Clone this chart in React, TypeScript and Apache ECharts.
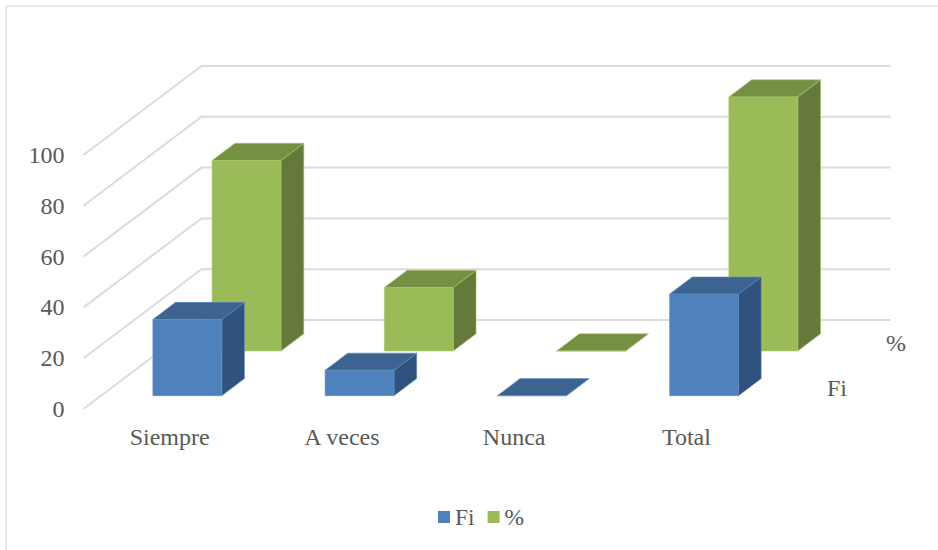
import React, { useEffect, useRef } from "react";
import * as echarts from "echarts";

const categories = ["Siempre", "A veces", "Nunca", "Total"];
const fiValues = [30, 10, 0, 40];
const pctValues = [75, 25, 0, 100];
const yTicks = [0, 20, 40, 60, 80, 100];

const DEPTH_X = 118;
const DEPTH_Y = 89;
const BAR_WIDTH_RATIO = 0.4;
const FI_DEPTH: [number, number] = [0.15, 0.342];
const PCT_DEPTH: [number, number] = [0.652, 0.845];
const FONT = '"Liberation Serif", "Times New Roman", serif';
const TEXT_COLOR = "#595959";

function barRenderer(depth: [number, number], front: string, top: string, side: string, edge: string) {
  return (_params: any, api: any) => {
    const idx = api.value(0);
    const value = api.value(1);
    const center = api.coord([idx, 0]);
    const high = api.coord([idx, value]);
    const w = api.size([1, 0])[0] * BAR_WIDTH_RATIO;
    const ox = depth[0] * DEPTH_X;
    const oy = depth[0] * DEPTH_Y;
    const dx = (depth[1] - depth[0]) * DEPTH_X;
    const dy = (depth[1] - depth[0]) * DEPTH_Y;
    const x0 = center[0] - w / 2 + ox;
    const x1 = x0 + w;
    const yb = center[1] - oy;
    const yt = high[1] - oy;
    const stroke = { stroke: edge, lineWidth: 0.6 };
    return {
      type: "group",
      children: [
        {
          type: "polygon",
          shape: { points: [[x1, yb], [x1 + dx, yb - dy], [x1 + dx, yt - dy], [x1, yt]] },
          style: { fill: side, ...stroke },
        },
        {
          type: "polygon",
          shape: { points: [[x0, yt], [x1, yt], [x1 + dx, yt - dy], [x0 + dx, yt - dy]] },
          style: { fill: top, ...stroke },
        },
        {
          type: "rect",
          shape: { x: x0, y: yt, width: w, height: yb - yt },
          style: { fill: front, ...stroke },
        },
      ],
    };
  };
}

function wallRenderer(_params: any, api: any) {
  const cs = _params.coordSys;
  const y = api.coord([0, api.value(1)])[1];
  return {
    type: "polyline",
    shape: {
      points: [
        [cs.x, y],
        [cs.x + DEPTH_X, y - DEPTH_Y],
        [cs.x + cs.width + DEPTH_X, y - DEPTH_Y],
      ],
    },
    style: { stroke: "#DCDCDC", lineWidth: 2, fill: "none" },
  };
}

export default function App() {
  const ref = useRef<HTMLDivElement>(null);
  useEffect(() => {
    const chart = echarts.init(ref.current!, undefined, { renderer: "svg" });
    chart.setOption({
      animation: false,
      backgroundColor: "#ffffff",
      textStyle: { fontFamily: FONT },
      grid: { left: 83.5, top: 155, width: 689, height: 254 },
      legend: {
        data: ["Fi", "%"],
        left: 433,
        top: 500,
        icon: "rect",
        itemWidth: 12,
        itemHeight: 12,
        itemGap: 13,
        textStyle: { fontFamily: FONT, fontSize: 23.5, color: TEXT_COLOR },
      },
      xAxis: {
        type: "category",
        data: categories,
        axisLine: { show: false },
        axisTick: { show: false },
        splitLine: { show: false },
        axisLabel: { fontFamily: FONT, fontSize: 24, color: TEXT_COLOR, margin: 16 },
      },
      yAxis: {
        type: "value",
        min: 0,
        max: 100,
        interval: 20,
        axisLine: { show: false },
        axisTick: { show: false },
        splitLine: { show: false },
        axisLabel: { fontFamily: FONT, fontSize: 24, color: TEXT_COLOR, margin: 19 },
      },
      graphic: [
        { type: "line", shape: { x1: 6, y1: 6, x2: 938, y2: 6 }, style: { stroke: "#E3E3E3", lineWidth: 1.5 } },
        { type: "line", shape: { x1: 6, y1: 6, x2: 6, y2: 550 }, style: { stroke: "#E3E3E3", lineWidth: 1.5 } },
        { type: "text", x: 827, y: 376, style: { text: "Fi", font: `24px ${FONT}`, fill: TEXT_COLOR } },
        { type: "text", x: 886, y: 331, style: { text: "%", font: `24px ${FONT}`, fill: TEXT_COLOR } },
      ],
      series: [
        {
          type: "custom",
          name: "wall",
          z: 1,
          silent: true,
          clip: false,
          encode: { x: 0, y: 1 },
          renderItem: wallRenderer,
          data: yTicks.map((v) => [0, v]),
        },
        {
          type: "custom",
          name: "Fi",
          z: 3,
          clip: false,
          itemStyle: { color: "#4F81BD" },
          encode: { x: 0, y: 1 },
          renderItem: barRenderer(FI_DEPTH, "#4F81BD", "#3D6391", "#30527C", "#5F8DC4"),
          data: fiValues.map((v, i) => [i, v]),
        },
        {
          type: "custom",
          name: "%",
          z: 2,
          clip: false,
          itemStyle: { color: "#9BBB59" },
          encode: { x: 0, y: 1 },
          renderItem: barRenderer(PCT_DEPTH, "#9BBB59", "#769043", "#65793A", "#A9C56F"),
          data: pctValues.map((v, i) => [i, v]),
        },
      ],
    });
    return () => chart.dispose();
  }, []);
  return <div ref={ref} style={{ position: "absolute", left: 0, top: 0, width: 938, height: 550 }} />;
}
